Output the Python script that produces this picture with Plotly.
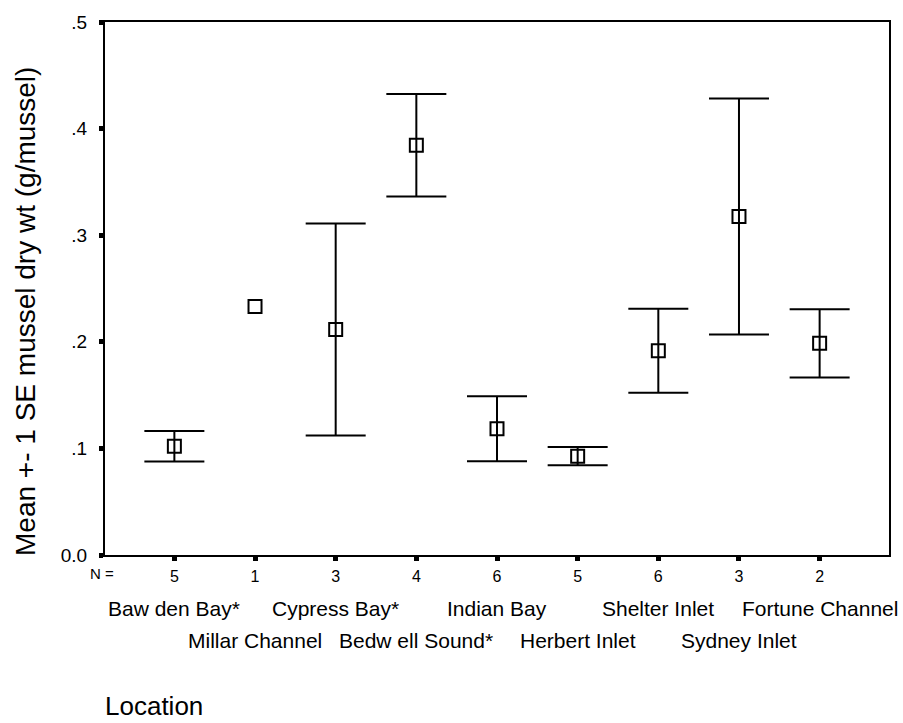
import plotly.graph_objects as go

# Sampling locations (SPSS-style error bar chart: mean +- 1 SE)
locations = ["Baw den Bay*", "Millar Channel", "Cypress Bay*", "Bedw ell Sound*",
             "Indian Bay", "Herbert Inlet", "Shelter Inlet", "Sydney Inlet",
             "Fortune Channel"]
n_values = [5, 1, 3, 4, 6, 5, 6, 3, 2]
means = [0.102, 0.233, 0.2115, 0.3844, 0.1184, 0.0927, 0.1916, 0.3176, 0.1986]
std_err = [0.0143, None, 0.0994, 0.048, 0.0305, 0.0086, 0.0393, 0.1107, 0.032]
y_ticks = [0.0, 0.1, 0.2, 0.3, 0.4, 0.5]
y_tick_text = ["0.0", ".1", ".2", ".3", ".4", ".5"]

FONT = "Liberation Sans, Arial, sans-serif"
positions = list(range(len(locations)))

marker_style = dict(symbol="square-open", size=13, color="black",
                    line=dict(width=2, color="black"))

# Groups with a standard error get bars; single-sample groups only a marker
with_se = [i for i, s in enumerate(std_err) if s is not None]
without_se = [i for i, s in enumerate(std_err) if s is None]

fig = go.Figure()
fig.add_trace(go.Scatter(
    x=[positions[i] for i in with_se],
    y=[means[i] for i in with_se],
    mode="markers",
    marker=marker_style,
    error_y=dict(type="data", array=[std_err[i] for i in with_se], visible=True,
                 color="black", thickness=2, width=30),
    showlegend=False,
    cliponaxis=False,
))
fig.add_trace(go.Scatter(
    x=[positions[i] for i in without_se],
    y=[means[i] for i in without_se],
    mode="markers",
    marker=marker_style,
    showlegend=False,
    cliponaxis=False,
))

# Location names on two staggered rows below the N counts
annotations = []
for i, name in enumerate(locations):
    annotations.append(dict(
        x=i, xref="x", y=0, yref="paper",
        text=name, showarrow=False, xanchor="center", yanchor="middle",
        yshift=-53 if i % 2 == 0 else -85,
        font=dict(family=FONT, size=21, color="black"),
    ))

annotations += [
    dict(x=0, xref="paper", y=0, yref="paper", text="N =", showarrow=False,
         xanchor="center", yanchor="middle", xshift=-3, yshift=-18,
         font=dict(family=FONT, size=15, color="black")),
    dict(x=0, xref="paper", y=0, yref="paper", text="Location", showarrow=False,
         xanchor="left", yanchor="middle", xshift=-2, yshift=-151,
         font=dict(family=FONT, size=26, color="black")),
    dict(x=0, xref="paper", y=0.456, yref="paper",
         text="Mean +- 1 SE mussel dry wt (g/mussel)", showarrow=False,
         textangle=-90, xanchor="center", yanchor="middle", xshift=-79,
         font=dict(family=FONT, size=28, color="black")),
]

fig.update_layout(
    width=903, height=723,
    margin=dict(l=105, r=14, t=20, b=168),
    paper_bgcolor="white", plot_bgcolor="white",
    annotations=annotations,
    font=dict(family=FONT, color="black"),
)

fig.update_xaxes(
    range=[-0.86, 8.86],
    tickmode="array", tickvals=positions, ticktext=[str(n) for n in n_values],
    ticks="outside", ticklen=4, tickwidth=5, tickcolor="black",
    tickfont=dict(family=FONT, size=16, color="black"),
    ticklabelstandoff=2,
    showline=True, linewidth=2, linecolor="black", mirror=True,
    showgrid=False, zeroline=False,
)
fig.update_yaxes(
    range=[0, 0.5],
    tickmode="array", tickvals=y_ticks, ticktext=y_tick_text,
    ticks="outside", ticklen=4, tickwidth=5, tickcolor="black",
    tickfont=dict(family=FONT, size=19, color="black"),
    ticklabelstandoff=8,
    showline=True, linewidth=2, linecolor="black", mirror=True,
    showgrid=False, zeroline=False,
)

fig.write_html("out.html")
